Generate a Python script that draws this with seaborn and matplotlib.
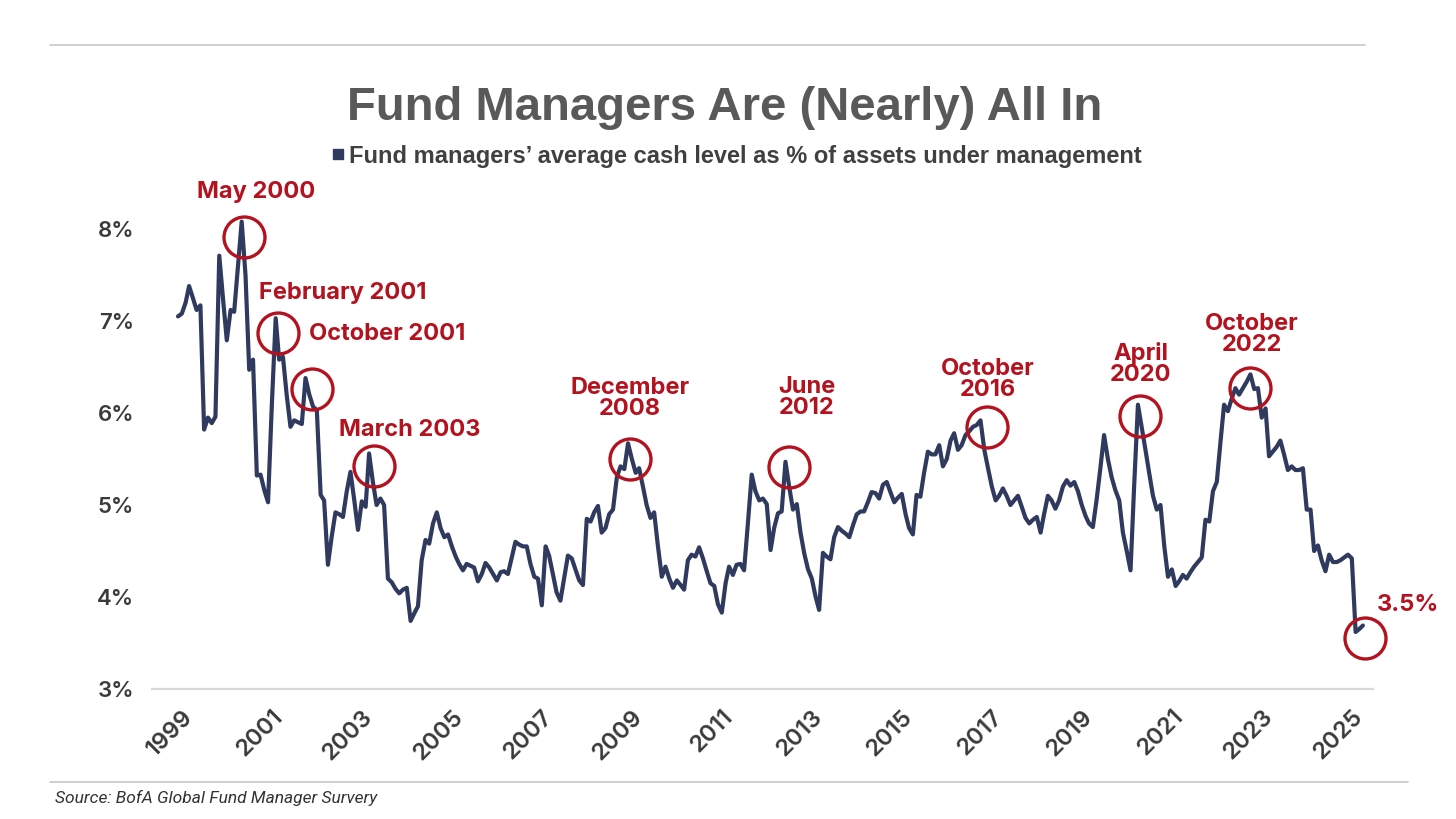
import pandas as pd
import matplotlib
matplotlib.use("Agg")
import matplotlib.pyplot as plt
from matplotlib.lines import Line2D
from matplotlib.transforms import ScaledTranslation
import seaborn as sns

# monthly cash level (% of AUM), Dec 1998 onward
cash_1998 = [7.05]
cash_1999 = [7.08, 7.20, 7.38, 7.25, 7.12, 7.17, 5.82, 5.95, 5.89, 5.96, 7.71, 7.25]
cash_2000 = [6.79, 7.12, 7.10, 7.60, 8.08, 7.50, 6.47, 6.58, 5.32, 5.33, 5.16, 5.03]
cash_2001 = [6.10, 7.03, 6.58, 6.61, 6.20, 5.85, 5.92, 5.90, 5.88, 6.38, 6.20, 6.07]
cash_2002 = [6.03, 5.11, 5.05, 4.35, 4.65, 4.92, 4.90, 4.87, 5.15, 5.36, 5.05, 4.73]
cash_2003 = [5.04, 4.98, 5.56, 5.25, 5.00, 5.07, 5.00, 4.20, 4.16, 4.09, 4.04, 4.08]
cash_2004 = [4.10, 3.74, 3.82, 3.90, 4.40, 4.62, 4.58, 4.80, 4.92, 4.75, 4.65, 4.68]
cash_2005 = [4.55, 4.44, 4.36, 4.29, 4.36, 4.34, 4.32, 4.17, 4.25, 4.37, 4.32, 4.25]
cash_2006 = [4.18, 4.27, 4.28, 4.25, 4.42, 4.60, 4.57, 4.55, 4.55, 4.36, 4.22, 4.20]
cash_2007 = [3.91, 4.55, 4.45, 4.25, 4.05, 3.96, 4.20, 4.45, 4.42, 4.30, 4.18, 4.13]
cash_2008 = [4.85, 4.82, 4.92, 4.99, 4.70, 4.75, 4.90, 4.95, 5.30, 5.42, 5.39, 5.67]
cash_2009 = [5.50, 5.35, 5.40, 5.20, 5.00, 4.86, 4.92, 4.55, 4.22, 4.33, 4.20, 4.10]
cash_2010 = [4.18, 4.13, 4.08, 4.40, 4.46, 4.44, 4.54, 4.42, 4.28, 4.15, 4.12, 3.92]
cash_2011 = [3.83, 4.15, 4.33, 4.24, 4.35, 4.36, 4.29, 4.80, 5.33, 5.15, 5.05, 5.07]
cash_2012 = [5.01, 4.51, 4.75, 4.91, 4.93, 5.47, 5.20, 4.95, 5.01, 4.70, 4.47, 4.30]
cash_2013 = [4.20, 4.00, 3.86, 4.48, 4.44, 4.41, 4.65, 4.76, 4.72, 4.69, 4.65, 4.78]
cash_2014 = [4.90, 4.93, 4.93, 5.03, 5.14, 5.13, 5.07, 5.22, 5.25, 5.14, 5.03, 5.08]
cash_2015 = [5.12, 4.90, 4.75, 4.68, 5.11, 5.09, 5.35, 5.58, 5.55, 5.55, 5.65, 5.42]
cash_2016 = [5.50, 5.70, 5.78, 5.60, 5.65, 5.76, 5.80, 5.85, 5.87, 5.92, 5.60, 5.40]
cash_2017 = [5.20, 5.05, 5.10, 5.18, 5.10, 5.00, 5.05, 5.10, 4.98, 4.86, 4.80, 4.84]
cash_2018 = [4.87, 4.70, 4.90, 5.10, 5.05, 4.96, 5.05, 5.20, 5.27, 5.21, 5.25, 5.15]
cash_2019 = [5.00, 4.88, 4.80, 4.76, 5.05, 5.40, 5.76, 5.50, 5.30, 5.16, 5.05, 4.70]
cash_2020 = [4.50, 4.29, 5.20, 6.09, 5.85, 5.60, 5.35, 5.10, 4.95, 5.00, 4.55, 4.22]
cash_2021 = [4.30, 4.12, 4.17, 4.24, 4.20, 4.27, 4.33, 4.38, 4.43, 4.84, 4.82, 5.15]
cash_2022 = [5.25, 5.70, 6.09, 6.02, 6.15, 6.27, 6.20, 6.27, 6.34, 6.42, 6.26, 6.27]
cash_2023 = [5.95, 6.05, 5.53, 5.58, 5.63, 5.70, 5.55, 5.38, 5.42, 5.38, 5.38, 5.40]
cash_2024 = [4.95, 4.95, 4.50, 4.56, 4.40, 4.28, 4.46, 4.38, 4.38, 4.40, 4.43, 4.46]
cash_2025 = [4.42, 3.62, 3.65, 3.69]

cash = (cash_1998 + cash_1999 + cash_2000 + cash_2001 + cash_2002 + cash_2003
        + cash_2004 + cash_2005 + cash_2006 + cash_2007 + cash_2008 + cash_2009
        + cash_2010 + cash_2011 + cash_2012 + cash_2013 + cash_2014 + cash_2015
        + cash_2016 + cash_2017 + cash_2018 + cash_2019 + cash_2020 + cash_2021
        + cash_2022 + cash_2023 + cash_2024 + cash_2025)
dates = pd.date_range("1998-12-01", periods=len(cash), freq="MS")
df = pd.DataFrame({"date": dates, "cash": cash})

# called-out months
ann_dates = ["2000-05-01", "2001-02-01", "2001-10-01", "2003-03-01", "2008-12-01",
             "2012-06-01", "2016-10-01", "2020-04-01", "2022-10-01", "2025-04-01"]
ann_labels = ["May 2000", "February 2001", "October 2001", "March 2003", "December\n2008",
              "June\n2012", "October\n2016", "April\n2020", "October\n2022", "3.5%"]
# pixel offsets from the point: circle centre and label centre
circle_off = [(2, -15), (2, -15), (6, -11), (5, -13), (2, -16),
              (4, -5), (7, -7), (2, -11), (0, -14), (2, -12)]
label_off = [(14, 30), (67, 25), (82, 44), (41, 23), (2, 45),
             (21, 64), (7, 41), (3, 41), (1, 40), (45, 21)]

year_ticks = list(range(1999, 2026, 2))

NAVY = "#2f3a5e"
RED = "#b3121e"
GREY = "#3a3a3a"

sns.set_theme(style="white")
plt.rcParams["font.family"] = ["Inter", "DejaVu Sans"]
narrow = ["Liberation Sans Narrow", "Liberation Sans", "DejaVu Sans"]

fig = plt.figure(figsize=(14.56, 8.19), dpi=100)
ax = fig.add_axes([152 / 1456, 130 / 819, 1221 / 1456, 506 / 819])

sns.lineplot(data=df, x="date", y="cash", ax=ax, color=NAVY, linewidth=3.0,
             legend=False, clip_on=False)

t0 = pd.Timestamp("1998-12-01")
ax.set_xlim(t0 - pd.Timedelta(days=211), t0 + pd.Timedelta(days=9700))
ax.set_ylim(3, 8.5)
ax.set_yticks([3, 4, 5, 6, 7, 8])
ax.set_yticklabels([f"{v}%" for v in [3, 4, 5, 6, 7, 8]])
ax.set_xticks(pd.to_datetime([f"{y}-01-01" for y in year_ticks]))
ax.set_xticklabels([str(y) for y in year_ticks], rotation=45, ha="right",
                   va="top", rotation_mode="anchor")
shift = ScaledTranslation(13 / 100, 0, fig.dpi_scale_trans)
for lab in ax.get_xticklabels():
    lab.set_transform(lab.get_transform() + shift)
ax.tick_params(axis="both", length=0, colors=GREY)
ax.tick_params(axis="x", labelsize=17, pad=12)
ax.tick_params(axis="y", labelsize=16, pad=13)
for lab in ax.get_xticklabels() + ax.get_yticklabels():
    lab.set_fontweight("semibold")
ax.set_xlabel("")
ax.set_ylabel("")
for s in ["left", "top", "right"]:
    ax.spines[s].set_visible(False)
ax.spines["bottom"].set_color("#d9d9d9")
ax.spines["bottom"].set_linewidth(1.6)

# circles and labels
for d, lab, (cx, cy), (lx, ly) in zip(ann_dates, ann_labels, circle_off, label_off):
    d = pd.Timestamp(d)
    v = df.loc[df["date"] == d, "cash"].iloc[0]
    tr = ax.transData + ScaledTranslation(cx / 100, cy / 100, fig.dpi_scale_trans)
    ax.plot([d], [v], marker="o", ms=29.5, mfc="none", mec=RED, mew=2.4,
            transform=tr, clip_on=False)
    ax.annotate(lab, (d, v), xytext=(lx, ly), textcoords="offset pixels",
                ha="center", va="center", color=RED, fontsize=17,
                fontweight="bold", linespacing=0.95, annotation_clip=False)

fig.text(724.5 / 1456, 1 - 108 / 819, "Fund Managers Are (Nearly) All In",
         ha="center", va="center", fontsize=34, fontweight="bold",
         color="#595959", family=narrow)

handle = Line2D([], [], marker="s", ls="none", color=NAVY, ms=7)
fig.legend([handle], ["Fund managers\u2019 average cash level as % of assets under management"],
           loc="center", bbox_to_anchor=(735 / 1456, 1 - 156 / 819), frameon=False,
           handletextpad=0.05, handlelength=0.8, labelcolor="#404040",
           prop={"family": narrow, "weight": "bold", "size": 17})

# page rules and source
fig.add_artist(Line2D([50 / 1456, 1365 / 1456], [1 - 45 / 819] * 2,
                      transform=fig.transFigure, color="#cccccc", lw=1.3))
fig.add_artist(Line2D([50 / 1456, 1408 / 1456], [1 - 782 / 819] * 2,
                      transform=fig.transFigure, color="#cccccc", lw=1.3))
fig.text(55 / 1456, 1 - 798 / 819, "Source: BofA Global Fund Manager Survery",
         ha="left", va="center", fontsize=12.5, style="italic", color="#333333",
         family=["Roboto", "Liberation Sans", "DejaVu Sans"])

fig.savefig("out.png", dpi=100)
